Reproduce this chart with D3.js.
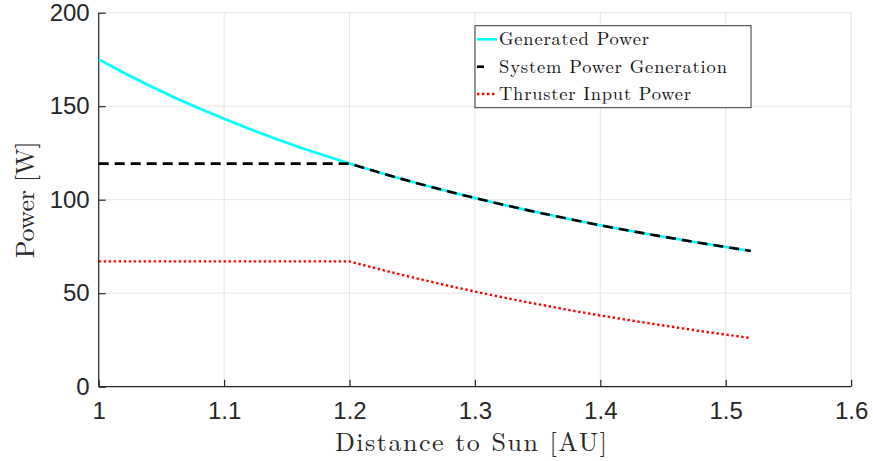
<!DOCTYPE html>
<html><head><meta charset="utf-8">
<script src="https://cdn.jsdelivr.net/npm/d3@7"></script>
<style>body{margin:0;background:#fff;} svg{display:block;}</style>
</head><body>
<svg id="c" width="873" height="461"></svg>
<script>
const distance = [1.00,1.02,1.04,1.06,1.08,1.10,1.12,1.14,1.16,1.18,1.20,1.22,1.24,1.26,1.28,1.30,1.32,1.34,1.36,1.38,1.40,1.42,1.44,1.46,1.48,1.50,1.52];
const generatedPower = [175.0,167.9,161.2,154.8,148.9,143.3,137.9,132.9,128.1,123.6,119.3,115.3,111.4,107.7,104.2,100.9,97.7,94.7,91.8,89.0,86.3,83.8,81.4,79.1,76.8,74.7,72.6];
const systemPower = [119.3,119.3,119.3,119.3,119.3,119.3,119.3,119.3,119.3,119.3,119.3,115.3,111.4,107.7,104.2,100.9,97.7,94.7,91.8,89.0,86.3,83.8,81.4,79.1,76.8,74.7,72.6];
const thrusterPower = [67.0,67.0,67.0,67.0,67.0,67.0,67.0,67.0,67.0,67.0,67.0,63.5,60.1,56.9,53.8,50.9,48.1,45.4,42.9,40.4,38.1,35.9,33.8,31.8,29.7,27.9,26.0];
const xTicks = [1,1.1,1.2,1.3,1.4,1.5,1.6];
const yTicks = [0,50,100,150,200];
const seriesNames = ["Generated Power","System Power Generation","Thruster Input Power"];

const svg = d3.select("#c");
const L=98.7, R=851.1, T=12.7, B=386.7;
const x = d3.scaleLinear().domain([1,1.6]).range([L,R]);
const y = d3.scaleLinear().domain([0,200]).range([B,T]);

// grid
const g = svg.append("g");
g.selectAll(".gx").data(xTicks).enter().append("line")
 .attr("x1",d=>x(d)).attr("x2",d=>x(d)).attr("y1",T).attr("y2",B)
 .attr("stroke","#e6e6e6").attr("stroke-width",1);
g.selectAll(".gy").data(yTicks).enter().append("line")
 .attr("y1",d=>y(d)).attr("y2",d=>y(d)).attr("x1",L).attr("x2",R)
 .attr("stroke","#e6e6e6").attr("stroke-width",1);

// axes
const axColor="#262626";
const xAxis = svg.append("g").attr("transform",`translate(0,${B})`)
 .call(d3.axisBottom(x).tickValues(xTicks).tickSize(-7).tickPadding(15).tickFormat(d3.format("")));
const yAxis = svg.append("g").attr("transform",`translate(${L},0)`)
 .call(d3.axisLeft(y).tickValues(yTicks).tickSize(-7).tickPadding(9));
[xAxis,yAxis].forEach(a=>{
  a.select(".domain").attr("stroke",axColor).attr("stroke-width",1.2);
  a.selectAll(".tick line").attr("stroke",axColor).attr("stroke-width",1.2);
  a.selectAll(".tick text").attr("fill",axColor).attr("font-family","Liberation Sans, Arial, sans-serif").attr("font-size",24);
});
xAxis.select(".domain").attr("d",`M${L},0H${R}`);
yAxis.select(".domain").attr("d",`M0,${B}V${T}`);

// lines
const line = (ys)=>d3.line().x((d,i)=>x(distance[i])).y((d,i)=>y(ys[i]))(distance);
svg.append("path").attr("d",line(generatedPower)).attr("fill","none").attr("stroke","#00ffff").attr("stroke-width",2.6);
svg.append("path").attr("d",line(systemPower)).attr("fill","none").attr("stroke","#000").attr("stroke-width",2.6).attr("stroke-dasharray","10,6");
svg.append("path").attr("d",line(thrusterPower)).attr("fill","none").attr("stroke","#ff0000").attr("stroke-width",2.4).attr("stroke-dasharray","2.4,2.6");

// axis labels
const serif="Latin Modern Roman, CMU Serif, Liberation Serif, Times New Roman, serif";
svg.append("text").attr("x",(L+R)/2-4).attr("y",451).attr("text-anchor","middle")
 .attr("font-family",serif).attr("font-size",26).attr("fill",axColor)
 .attr("textLength",272).attr("lengthAdjust","spacing").text("Distance to Sun [AU]");
svg.append("text").attr("transform",`translate(34,${(T+B)/2}) rotate(-90)`).attr("text-anchor","middle")
 .attr("font-family",serif).attr("font-size",26).attr("fill",axColor)
 .attr("textLength",117).attr("lengthAdjust","spacing").text("Power [W]");

// legend
const lg = svg.append("g");
lg.append("rect").attr("x",475).attr("y",25.7).attr("width",276).attr("height",82)
 .attr("fill","#fff").attr("stroke","#333").attr("stroke-width",1);
const ly=[39.3,66.7,94];
const tl=[150,228,192];
const styles=[{c:"#00ffff",d:null,x2:497},{c:"#000",d:null,x2:484},{c:"#ff0000",d:"2.4,2.6",x2:497}];
seriesNames.forEach((n,i)=>{
  lg.append("line").attr("x1",477).attr("x2",styles[i].x2).attr("y1",ly[i]).attr("y2",ly[i])
    .attr("stroke",styles[i].c).attr("stroke-width",2.6).attr("stroke-dasharray",styles[i].d);
  lg.append("text").attr("x",499).attr("y",ly[i]+6).attr("font-family",serif).attr("font-size",18.5)
    .attr("fill","#111").attr("textLength",tl[i]).attr("lengthAdjust","spacing").text(n);
});
</script>
</body></html>
